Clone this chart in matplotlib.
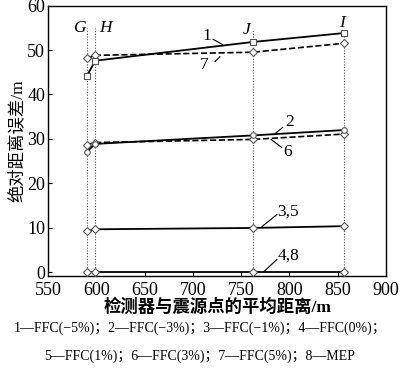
import matplotlib
matplotlib.use("Agg")
import matplotlib.pyplot as plt

plt.rcParams['font.family'] = ['Liberation Serif', 'Noto Sans CJK SC', 'DejaVu Sans']

# data
distance = [590, 599, 762, 856]          # G, H, J, I
point_names = ['G', 'H', 'J', 'I']
s1 = [44.1, 47.6, 51.8, 53.8]   # FFC(-5%)
s7 = [48.1, 48.8, 49.5, 51.5]   # FFC(5%)
s2 = [27.1, 28.9, 30.8, 32.0]   # FFC(-3%)
s6 = [28.7, 29.2, 29.9, 31.1]   # FFC(3%)
s35 = [9.3, 9.7, 10.0, 10.4]    # FFC(-1%), FFC(1%)
s48 = [0.0, 0.0, 0.0, 0.0]      # FFC(0%), MEP
guide_top = [55, 55, 54.5, 53.8]

fig = plt.figure(figsize=(4.0, 3.68), dpi=100)
ax = fig.add_axes([0.12, 0.25, 0.845, 0.735])

for x, top in zip(distance, guide_top):
    ax.plot([x, x], [-0.8, top], ls=(0, (1, 1.5)), color='#555555', lw=0.8, zorder=1)

mk = dict(markersize=4, markerfacecolor='white', markeredgecolor='#555555', markeredgewidth=0.8)
ax.plot(distance, s7, ls='--', color='black', lw=1.2, marker='D', **mk, zorder=3)
ax.plot(distance, s1, ls='-', color='black', lw=1.3, marker='s', **mk, zorder=3)
ax.plot(distance, s6, ls='--', color='black', lw=1.2, marker='D', **mk, zorder=3)
ax.plot(distance, s2, ls='-', color='black', lw=1.3, marker='o', **mk, zorder=3)
ax.plot(distance, s35, ls='-', color='black', lw=1.3, marker='D', **mk, zorder=3)
ax.plot(distance, s48, ls='-', color='black', lw=1.3, marker='D', **mk, zorder=3)

ax.set_xlim(550, 900)
ax.set_ylim(-0.8, 60)
ax.set_xticks(range(550, 901, 50))
ax.set_yticks(range(0, 61, 10))
ax.tick_params(direction='in', labelsize=13, length=3, width=0.8)
ax.tick_params(axis='x', pad=4)
ax.tick_params(axis='y', pad=2)
for sp in ax.spines.values():
    sp.set_linewidth(1.0)

ax.set_xlabel('检测器与震源点的平均距离/m', fontsize=12.5, fontweight='bold', labelpad=0)
ax.set_ylabel('绝对距离误差/m', fontsize=12.5, labelpad=1)

# point labels
lab_pos = [(582, 55.0), (609, 55.0), (756, 54.4), (854, 56.0)]
for name, (x, y) in zip(point_names, lab_pos):
    ax.text(x, y, name, fontsize=12.5, style='italic', ha='center', va='center')

# curve annotations: text position and leader line
def note(txt, tpos, p0, p1):
    ax.text(tpos[0], tpos[1], txt, fontsize=12.5, ha='center', va='center')
    ax.plot([p0[0], p1[0]], [p0[1], p1[1]], color='black', lw=0.8)

note('1', (714, 53.2), (721, 52.4), (731, 51.2))
note('7', (712, 46.6), (723, 47.4), (728, 48.5))
note('2', (800, 33.8), (793, 32.6), (784, 31.0))
note('6', (798, 27.0), (781, 29.9), (792, 28.1))
note('3,5', (799, 13.6), (771.5, 10.3), (787, 13.0))
note('4,8', (799, 3.7), (773.6, 0.2), (787, 2.9))

fig.text(0.5, 0.108, '1—FFC(−5%)；2—FFC(−3%)；3—FFC(−1%)；4—FFC(0%)；',
         ha='center', va='center', fontsize=10)
fig.text(0.5, 0.033, '5—FFC(1%)；6—FFC(3%)；7—FFC(5%)；8—MEP',
         ha='center', va='center', fontsize=10)

fig.savefig('out.png', dpi=100)
